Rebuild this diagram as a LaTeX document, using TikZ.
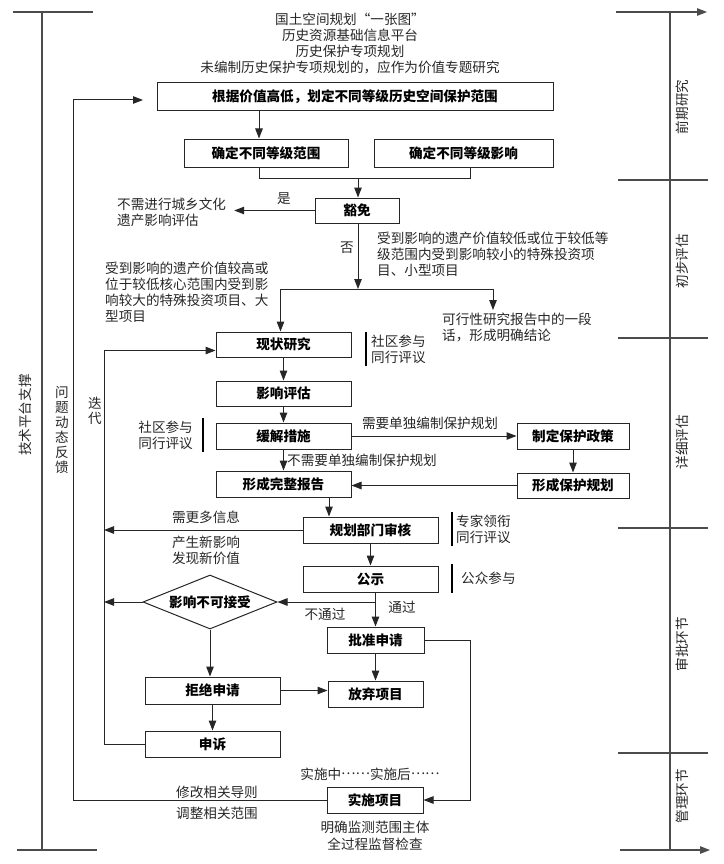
\documentclass[tikz,border=0pt]{standalone}
\usepackage{fontspec}
\setmainfont{Noto Sans CJK SC}
\usetikzlibrary{arrows.meta,shapes.geometric}
\newcommand\fs{\fontsize{13.6pt}{16pt}\selectfont}
\newcommand\midell{\raisebox{0.33em}{……}}
\tikzset{
 ln/.style={draw=black!85, line width=1pt},
 arr/.style={ln, -{Triangle[length=10pt,width=7.5pt]}},
 box/.style={draw=black!85, line width=1pt, font=\fs\bfseries, inner sep=0pt, minimum height=26pt},
 lbl/.style={font=\fs, text=black!85, inner sep=0pt},
 barln/.style={draw=black, line width=2pt},
 axis/.style={draw=black!70, line width=1.2pt},
}
\begin{document}
\begin{tikzpicture}[x=1pt,y=-1pt]
\useasboundingbox (0,0) rectangle (723,864);
% axes
\draw[axis] (42,12) -- (42,850);
\draw[axis] (13,12) -- (93,12);
\draw[axis] (17,850) -- (97,850);
\draw[axis] (670,12) -- (670,850);
\draw[axis,-{Triangle[length=10pt,width=7.5pt]}] (616,12) -- (707,12);
\foreach \y in {180,338,528,753} \draw[axis] (618,\y) -- (708,\y);
\draw[axis,-{Triangle[length=10pt,width=7.5pt]}] (620,850) -- (710,850);
\node[lbl,rotate=90] (s1) at (682,107) {前期研究};
\node[lbl,rotate=90] (s2) at (682,261) {初步评估};
\node[lbl,rotate=90] (s3) at (682,442) {详细评估};
\node[lbl,rotate=90] (s4) at (682,644) {审批环节};
\node[lbl,rotate=90] (s5) at (682,796) {管理环节};
\node[lbl,rotate=90] (tech) at (25,415) {技术平台支撑};
\node[lbl,align=center,font=\fontsize{13.6pt}{15pt}\selectfont] (fb) at (62,430) {问\\题\\动\\态\\反\\馈};
\node[lbl,align=center,font=\fontsize{13.6pt}{15pt}\selectfont] (dd) at (95,411) {迭\\代};
% top text
\node[lbl,align=center] (top) at (350,43) {国土空间规划“一张图”\\历史资源基础信息平台\\历史保护专项规划\\未编制历史保护专项规划的，应作为价值专题研究};
% boxes
\node[box,minimum width=396pt,minimum height=28pt] (b1) at (355,97) {根据价值高低，划定不同等级历史空间保护范围};
\node[box,minimum width=164pt,minimum height=28pt] (b2) at (266,153) {确定不同等级范围};
\node[box,minimum width=179pt,minimum height=28pt] (b3) at (463.5,153) {确定不同等级影响};
\node[box,minimum width=84pt,minimum height=25pt] (mian) at (357,210.5) {豁免};
\node[box,minimum width=135pt,minimum height=25pt] (xz) at (283.5,344.5) {现状研究};
\node[box,minimum width=135pt,minimum height=25pt] (yx) at (283.5,393.5) {影响评估};
\node[box,minimum width=135pt] (hj) at (283.5,436) {缓解措施};
\node[box,minimum width=135pt] (wz) at (283.5,484) {形成完整报告};
\node[box,minimum width=112pt] (zd) at (573,436) {制定保护政策};
\node[box,minimum width=112pt,minimum height=25pt] (xb) at (573,485.5) {形成保护规划};
\node[box,minimum width=135pt] (gh) at (370.5,530) {规划部门审核};
\node[box,minimum width=135pt] (gs) at (370.5,579) {公示};
\node[box,minimum width=97pt] (pz) at (375.5,640) {批准申请};
\node[box,minimum width=95pt] (fq) at (375.5,694) {放弃项目};
\node[box,minimum width=135pt,minimum height=27pt] (jj) at (212.5,690.5) {拒绝申请};
\node[box,minimum width=135pt] (ss) at (212.5,744) {申诉};
\node[box,minimum width=96pt] (sy) at (375,800) {实施项目};
\node[box,shape=diamond,aspect=2.5,minimum width=134pt,minimum height=54pt] (dm) at (210,602) {影响不可接受};
% connectors top
\coordinate (p0) at ([xshift=-7pt]b2.north);
\draw[arr] (p0 |- b1.south) -- (p0);
\coordinate (j1) at (358,178);
\draw[ln] ([xshift=-7pt]b2.south) |- (j1);
\draw[ln] ([xshift=6.5pt]b3.south) |- (j1);
\draw[arr] (j1) -- (j1 |- mian.north);
\node[lbl,align=left,anchor=west,inner xsep=8pt] (no) at (109,212) {不需进行城乡文化\\遗产影响评估};
\draw[arr] (mian.west) -- (mian.west -| no.east);
\node[lbl] (shi) at (284,199) {是};
\coordinate (j2) at (358,289);
\draw[arr] (j1 |- mian.south) -- (j2);
\node[lbl] (fou) at (347,248) {否};
\node[lbl,align=left,anchor=west] (low) at (377,254) {受到影响的遗产价值较低或位于较低等\\级范围内受到影响较小的特殊投资项\\目、小型项目};
\node[lbl,align=left,anchor=west] (high) at (105,292) {受到影响的遗产价值较高或\\位于较低核心范围内受到影\\响较大的特殊投资项目、大\\型项目};
\node[lbl,align=left,anchor=west] (kx) at (442,327.5) {可行性研究报告中的一段\\话，形成明确结论};
\coordinate (kxa) at (493,310);
\draw[arr] (j2) -| ([xshift=-3pt]xz.north);
\draw[arr] (j2) -| (kxa);
% detailed
\node[lbl,align=left,anchor=west] (c1) at (371,349) {社区参与\\同行评议};
\draw[barln] ([xshift=-5pt,yshift=2pt]c1.north west) -- ([xshift=-5pt,yshift=-2pt]c1.south west);
\draw[arr] (xz) -- (yx);
\draw[arr] (yx) -- (hj);
\draw[arr] (hj) -- (wz);
\node[lbl,anchor=west] (nx) at (287,460) {不需要单独编制保护规划};
\node[lbl,align=right,anchor=east] (c2) at (193,435) {社区参与\\同行评议};
\draw[barln] ([xshift=10pt,yshift=2pt]c2.north east) -- ([xshift=10pt,yshift=-2pt]c2.south east);
\draw[arr] (hj) -- (zd);
\node[lbl] (need) at (430,423) {需要单独编制保护规划};
\draw[arr] (zd) -- (xb);
\draw[arr] (xb) -- (xb -| wz.east);
\coordinate (p1) at ([xshift=45.5pt]wz.south);
\draw[arr] (p1) -- (p1 |- gh.north);
\node[lbl,align=left,anchor=west] (c3) at (456,529) {专家领衔\\同行评议};
\draw[barln] ([xshift=-4pt,yshift=2pt]c3.north west) -- ([xshift=-4pt,yshift=-2pt]c3.south west);
\coordinate (itx) at (104,0);
\coordinate (fbx) at (73,0);
\draw[arr] (gh.west) -- (gh.west -| itx);
\node[lbl] (more) at (206,517) {需更多信息};
\node[lbl,align=center] (newv) at (206,550.5) {产生新影响\\发现新价值};
\draw[arr] (gh) -- (gs);
\node[lbl,anchor=west] (c4) at (461,578) {公众参与};
\draw[barln] ([xshift=-9pt,yshift=14.5pt]c4.west) -- ([xshift=-9pt,yshift=-14.5pt]c4.west);
% approval
\coordinate (j3) at (pz.north |- dm.east);
\draw[ln] (gs.south -| j3) -- (j3);
\draw[arr] (j3) -- (dm.east);
\draw[arr] (j3) -- (pz.north);
\node[lbl] (tg) at (402,607) {通过};
\node[lbl] (btg) at (325,614) {不通过};
\draw[arr] (dm.west) -- (dm.west -| itx);
\draw[arr] (dm.south) -- (dm.south |- jj.north);
\draw[arr] (pz) -- (fq);
\draw[arr] (jj.east) -- (jj.east -| fq.west);
\draw[arr] (jj) -- (ss);
\coordinate (p2) at ([yshift=-6pt]xz.west);
\draw[arr] (ss.west) -- (ss.west -| itx) -- (itx |- p2) -- (p2);
\draw[arr] (pz.east) -- ++(46,0) |- (sy.east);
\coordinate (fbt) at (143,100);
\draw[arr] (sy.west) -- (sy.west -| fbx) -- (fbx |- fbt) -- (fbt);
\node[lbl] (xg) at (217,792) {修改相关导则};
\node[lbl] (tz) at (217,813) {调整相关范围};
\node[lbl] (ssz) at (370,774) {实施中\midell 实施后\midell};
\node[lbl,align=center,font=\fontsize{13.6pt}{17pt}\selectfont] (jc) at (375,835.5) {明确监测范围主体\\全过程监督检查};
\end{tikzpicture}
\end{document}
